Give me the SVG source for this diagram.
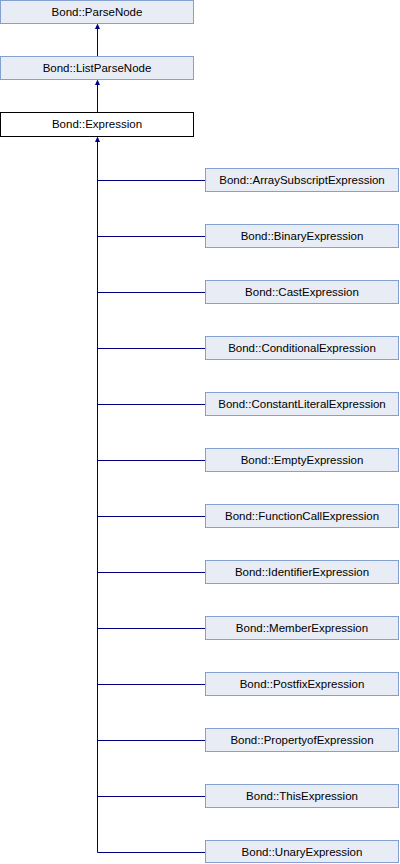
<svg xmlns="http://www.w3.org/2000/svg" width="400" height="864" viewBox="0 0 400 864">
<defs>
<style>
.n rect{fill:#E8ECF5;stroke:#84A0D0;stroke-width:1}
.cur rect{fill:#FFFFFF;stroke:#000000;stroke-width:1}
text{font-family:"Liberation Sans",Arial,sans-serif;font-size:11.5px;fill:#000000;text-anchor:middle}
.e{stroke:#000080;stroke-width:1;fill:none}
.ah{fill:#000080}
</style>
</defs>
<rect width="400" height="864" fill="#FFFFFF"/>
<g id="connectors">
<path class="e" d="M97.5,29 V56"/>
<path class="e" d="M97.5,85 V112"/>
<path class="e" d="M97.5,141 V852.5"/>
<path class="ah" d="M97.5,23.5 L95,29 L100,29 Z"/>
<path class="ah" d="M97.5,79.5 L95,85 L100,85 Z"/>
<path class="ah" d="M97.5,136.5 L95,142 L100,142 Z"/>
<path class="e" d="M97.5,180.5 H205"/>
<path class="e" d="M97.5,236.5 H205"/>
<path class="e" d="M97.5,292.5 H205"/>
<path class="e" d="M97.5,348.5 H205"/>
<path class="e" d="M97.5,404.5 H205"/>
<path class="e" d="M97.5,460.5 H205"/>
<path class="e" d="M97.5,516.5 H205"/>
<path class="e" d="M97.5,572.5 H205"/>
<path class="e" d="M97.5,628.5 H205"/>
<path class="e" d="M97.5,684.5 H205"/>
<path class="e" d="M97.5,740.5 H205"/>
<path class="e" d="M97.5,796.5 H205"/>
<path class="e" d="M97.5,852.5 H205"/>
</g>
<g id="ParseNode" class="n"><rect x="0.5" y="0.5" width="193" height="23"/><text x="97" y="16">Bond::ParseNode</text></g>
<g id="ListParseNode" class="n"><rect x="0.5" y="56.5" width="193" height="23"/><text x="97" y="72">Bond::ListParseNode</text></g>
<g id="Expression" class="cur"><rect x="0.5" y="112.5" width="193" height="24"/><text x="97" y="128">Bond::Expression</text></g>
<g id="ArraySubscriptExpression" class="n"><rect x="205.5" y="168.5" width="193" height="23"/><text x="302" y="184">Bond::ArraySubscriptExpression</text></g>
<g id="BinaryExpression" class="n"><rect x="205.5" y="224.5" width="193" height="23"/><text x="302" y="240">Bond::BinaryExpression</text></g>
<g id="CastExpression" class="n"><rect x="205.5" y="280.5" width="193" height="23"/><text x="302" y="296">Bond::CastExpression</text></g>
<g id="ConditionalExpression" class="n"><rect x="205.5" y="336.5" width="193" height="23"/><text x="302" y="352">Bond::ConditionalExpression</text></g>
<g id="ConstantLiteralExpression" class="n"><rect x="205.5" y="392.5" width="193" height="23"/><text x="302" y="408">Bond::ConstantLiteralExpression</text></g>
<g id="EmptyExpression" class="n"><rect x="205.5" y="448.5" width="193" height="23"/><text x="302" y="464">Bond::EmptyExpression</text></g>
<g id="FunctionCallExpression" class="n"><rect x="205.5" y="504.5" width="193" height="23"/><text x="302" y="520">Bond::FunctionCallExpression</text></g>
<g id="IdentifierExpression" class="n"><rect x="205.5" y="560.5" width="193" height="23"/><text x="302" y="576">Bond::IdentifierExpression</text></g>
<g id="MemberExpression" class="n"><rect x="205.5" y="616.5" width="193" height="23"/><text x="302" y="632">Bond::MemberExpression</text></g>
<g id="PostfixExpression" class="n"><rect x="205.5" y="672.5" width="193" height="23"/><text x="302" y="688">Bond::PostfixExpression</text></g>
<g id="PropertyofExpression" class="n"><rect x="205.5" y="728.5" width="193" height="23"/><text x="302" y="744">Bond::PropertyofExpression</text></g>
<g id="ThisExpression" class="n"><rect x="205.5" y="784.5" width="193" height="23"/><text x="302" y="800">Bond::ThisExpression</text></g>
<g id="UnaryExpression" class="n"><rect x="205.5" y="840.5" width="193" height="22"/><text x="302" y="856">Bond::UnaryExpression</text></g>
</svg>
